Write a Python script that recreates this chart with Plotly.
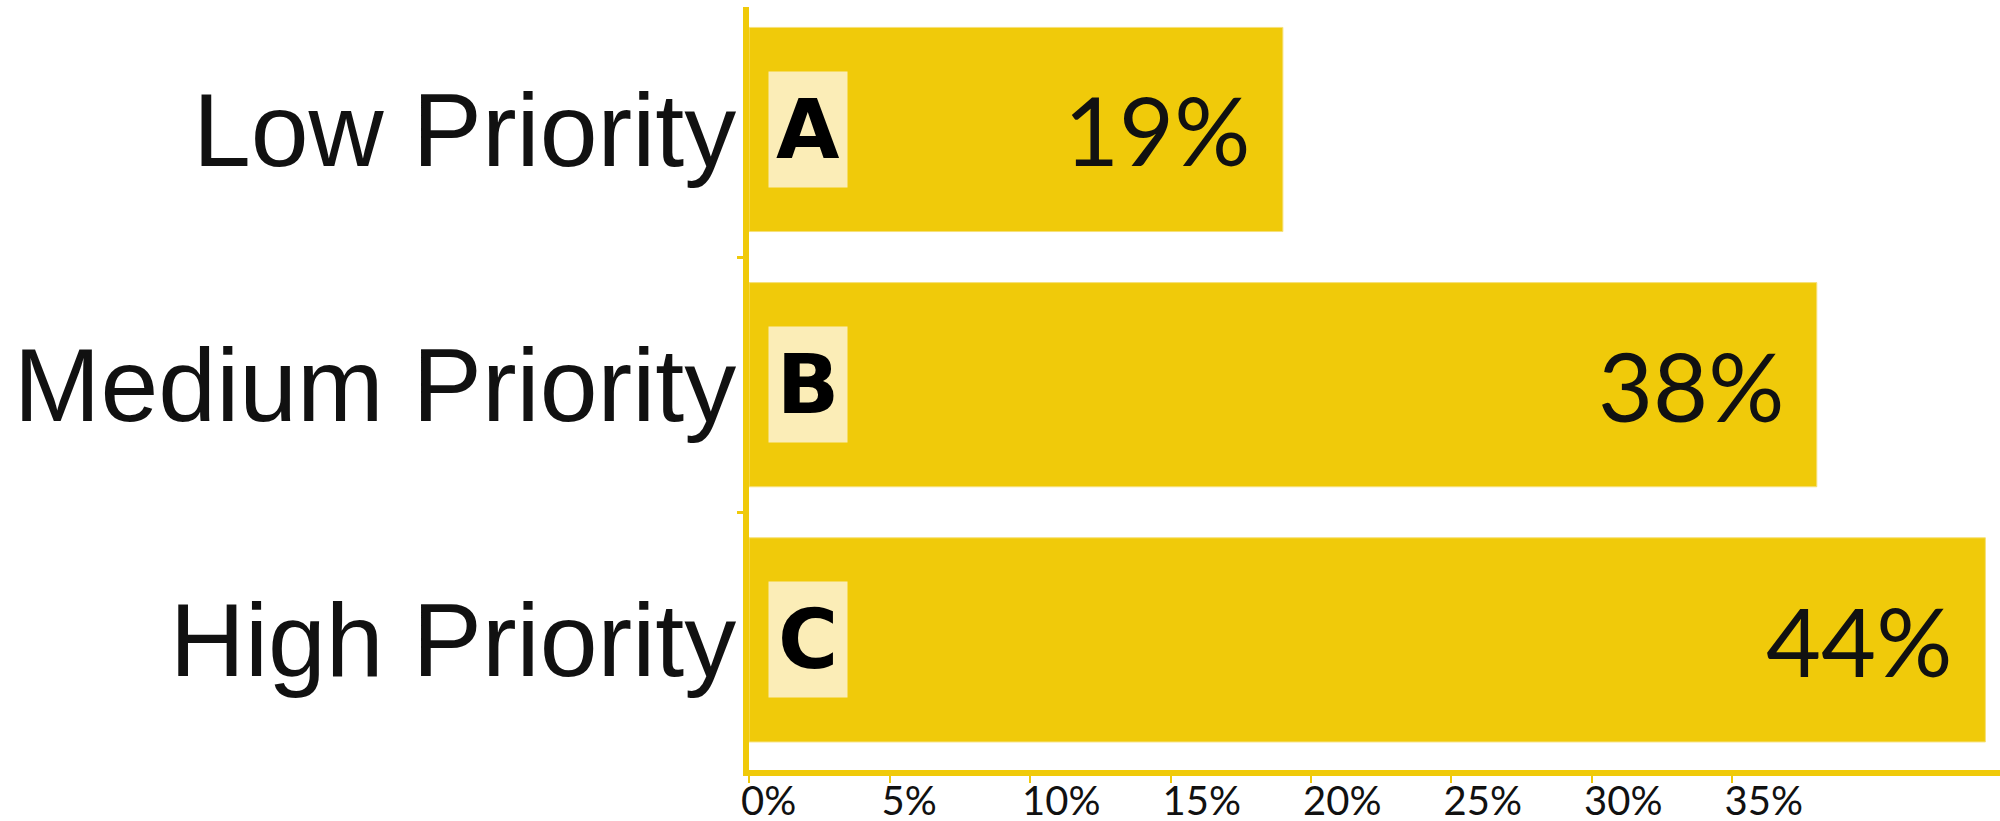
import plotly.graph_objects as go

# Survey share by priority level
categories = ["Low Priority", "Medium Priority", "High Priority"]
badges = ["A", "B", "C"]
shares = [19, 38, 44]
tick_values = [0, 5, 10, 15, 20, 25, 30, 35]
tick_labels = ["0%", "5%", "10%", "15%", "20%", "25%", "30%", "35%"]

GOLD = "#F0CA0A"
PALE = "#FBEDB7"
INK = "#111111"

fig = go.Figure()
fig.add_trace(go.Bar(
    x=shares,
    y=categories,
    orientation="h",
    width=0.8,
    marker=dict(color=GOLD, line=dict(color="#F6E07A", width=1)),
    hoverinfo="skip",
))

# Letter badge near the base of each bar
for cat, badge in zip(categories, badges):
    fig.add_annotation(
        x=0, y=cat, xref="x", yref="y",
        xanchor="left", yanchor="middle", xshift=19,
        text=f"<b>{badge}</b>", showarrow=False,
        width=78, height=115, bgcolor=PALE, borderpad=0,
        align="center", valign="middle",
        font=dict(family="DejaVu Sans", size=82, color="#000000"),
    )

# Value label inside the end of each bar
for cat, val in zip(categories, shares):
    fig.add_annotation(
        x=val, y=cat, xref="x", yref="y",
        xanchor="right", yanchor="middle", xshift=-31,
        text=f"{val}%", showarrow=False,
        font=dict(family="Lato", size=95, color=INK),
    )

fig.update_layout(
    width=2000, height=821,
    margin=dict(l=749, r=0, t=7, b=51),
    paper_bgcolor="white", plot_bgcolor="white",
    showlegend=False,
    xaxis=dict(
        range=[0, 44.52],
        automargin=False,
        tickvals=tick_values, ticktext=tick_labels,
        showgrid=False, zeroline=False,
        showline=True, linecolor=GOLD, linewidth=6,
        ticks="outside", ticklen=7, tickwidth=2, tickcolor=GOLD,
        ticklabelposition="outside right", ticklabelshift=-12,
        ticklabelstandoff=-9,
        tickfont=dict(family="Lato", size=40, color=INK),
    ),
    yaxis=dict(
        categoryorder="array", categoryarray=categories,
        range=[2.51, -0.48],
        automargin=False,
        showgrid=False, zeroline=False,
        showline=True, linecolor=GOLD, linewidth=6,
        ticks="outside", tickson="boundaries", ticklen=6, tickwidth=3, tickcolor=GOLD,
        ticklabelstandoff=-14,
        tickfont=dict(family="Liberation Sans", size=104, color=INK),
    ),
)

fig.write_html("out.html")
